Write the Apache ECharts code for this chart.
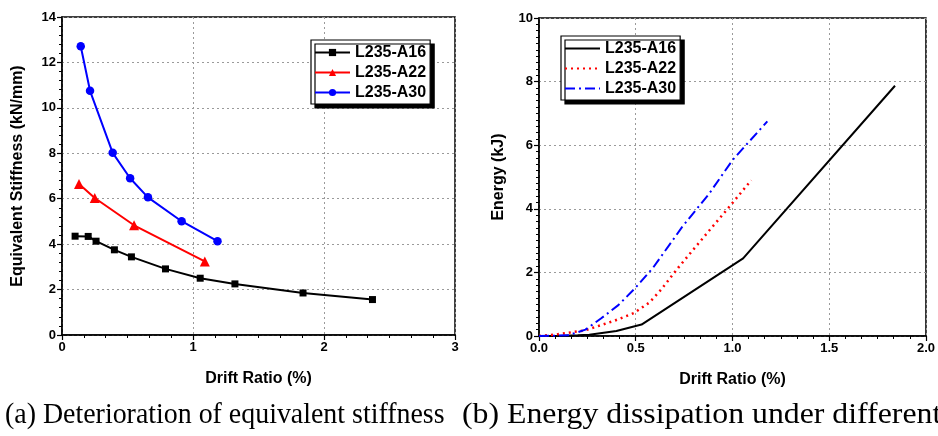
<!DOCTYPE html>
<html>
<head>
<meta charset="utf-8">
<script src="https://cdn.jsdelivr.net/npm/echarts@6/dist/echarts.min.js"></script>
<style>html,body{margin:0;padding:0;background:#fff}#c{width:938px;height:436px}</style>
</head>
<body>
<div id="c"></div>
<script>
// ---- Data: (a) equivalent stiffness ----
const seriesNames = ['L235-A16', 'L235-A22', 'L235-A30'];
const stiffA16 = [[0.10,4.35],[0.20,4.34],[0.26,4.13],[0.40,3.75],[0.53,3.44],[0.79,2.91],[1.055,2.50],[1.32,2.25],[1.84,1.85],[2.37,1.56]];
const stiffA22 = [[0.13,6.65],[0.25,6.03],[0.55,4.83],[1.09,3.24]];
const stiffA30 = [[0.143,12.71],[0.214,10.75],[0.387,8.02],[0.52,6.90],[0.656,6.06],[0.913,5.01],[1.187,4.13]];
// ---- Data: (b) energy dissipation ----
const energyA16 = [[0,0],[0.10,0.0],[0.20,0.02],[0.26,0.04],[0.40,0.16],[0.53,0.36],[1.055,2.44],[1.84,7.87]];
const energyA22 = [[0,0],[0.08,0.04],[0.24,0.18],[0.39,0.48],[0.49,0.72],[0.57,1.05],[0.63,1.45],[0.72,2.15],[0.85,3.10],[0.975,4.00],[1.097,4.90]];
const energyA30 = [[0,0],[0.15,0.02],[0.24,0.20],[0.32,0.55],[0.41,0.97],[0.49,1.46],[0.59,2.15],[0.74,3.43],[0.88,4.48],[1.00,5.53],[1.18,6.75]];
// ---- Texts ----
const xAxisTitle = 'Drift Ratio (%)';
const yTitleA = 'Equivalent Stiffness (kN/mm)';
const yTitleB = 'Energy (kJ)';
const captionA = '(a) Deterioration of equivalent stiffness';
const captionB = '(b) Energy dissipation under different';

const FONT = 'Liberation Sans, Arial, sans-serif';
function axisCommon(min, max, interval, split, fmt) {
  return {
    type: 'value', min: min, max: max, interval: interval,
    axisLine: { show: true, onZero: false, lineStyle: { color: '#000', width: 1.5 } },
    axisTick: { show: true, inside: false, length: 5, lineStyle: { color: '#000', width: 1.2 } },
    minorTick: { show: true, splitNumber: split, length: 3, lineStyle: { color: '#000', width: 1 } },
    axisLabel: { color: '#000', fontFamily: FONT, fontWeight: 'bold', fontSize: 13, margin: 6, formatter: fmt },
    splitLine: { show: true, lineStyle: { color: '#9a9a9a', type: [2, 3], width: 1 } },
    nameTextStyle: { color: '#000', fontFamily: FONT, fontWeight: 'bold', fontSize: 16 },
    nameLocation: 'middle'
  };
}

const chart = echarts.init(document.getElementById('c'), null, { renderer: 'canvas' });
const legendCommon = {
  orient: 'vertical', backgroundColor: '#fff', borderColor: '#000', borderWidth: 1.2,
  shadowColor: '#000', shadowBlur: 0, shadowOffsetX: 4, shadowOffsetY: 4,
  padding: [4, 4, 3, 3], itemGap: 3, itemWidth: 35, itemHeight: 9,
  textStyle: { color: '#000', fontFamily: FONT, fontWeight: 'bold', fontSize: 16, lineHeight: 17 },
  selectedMode: false
};

const option = {
  animation: false,
  backgroundColor: '#fff',
  grid: [
    { left: 62, top: 17, width: 393, height: 318, show: true, borderColor: '#000', borderWidth: 1.5, backgroundColor: 'transparent' },
    { left: 539, top: 18, width: 391, height: 318, show: true, borderColor: '#000', borderWidth: 1.5, backgroundColor: 'transparent' }
  ],
  xAxis: [
    Object.assign(axisCommon(0, 3, 1, 6, v => String(v)), { gridIndex: 0, name: xAxisTitle, nameGap: 36 }),
    Object.assign(axisCommon(0, 2, 0.5, 6, v => v.toFixed(1)), { gridIndex: 1, name: xAxisTitle, nameGap: 36 })
  ],
  yAxis: [
    Object.assign(axisCommon(0, 14, 2, 5, v => String(v)), { gridIndex: 0, name: yTitleA, nameGap: 36 }),
    Object.assign(axisCommon(0, 10, 2, 10, v => String(v)), { gridIndex: 1, name: yTitleB, nameGap: 32 })
  ],
  legend: [
    Object.assign({}, legendCommon, { left: 311, top: 40,
      data: seriesNames.map(n => 'a:' + n), formatter: n => n.slice(2) }),
    Object.assign({}, legendCommon, { left: 561, top: 36,
      itemStyle: { color: 'rgba(0,0,0,0)', borderColor: 'rgba(0,0,0,0)', borderWidth: 0, opacity: 0 },
      data: seriesNames.map(n => 'b:' + n), formatter: n => n.slice(2) })
  ],
  series: [
    { name: 'a:' + seriesNames[0], type: 'line', xAxisIndex: 0, yAxisIndex: 0, data: stiffA16, symbol: 'rect', symbolSize: 7,
      itemStyle: { color: '#000' }, lineStyle: { color: '#000', width: 2 } },
    { name: 'a:' + seriesNames[1], type: 'line', xAxisIndex: 0, yAxisIndex: 0, data: stiffA22, symbol: 'triangle', symbolSize: 10,
      itemStyle: { color: '#ff0000' }, lineStyle: { color: '#ff0000', width: 2 } },
    { name: 'a:' + seriesNames[2], type: 'line', xAxisIndex: 0, yAxisIndex: 0, data: stiffA30, symbol: 'circle', symbolSize: 8.5,
      itemStyle: { color: '#0000ff' }, lineStyle: { color: '#0000ff', width: 2 } },
    { name: 'b:' + seriesNames[0], type: 'line', xAxisIndex: 1, yAxisIndex: 1, data: energyA16, showSymbol: false, symbol: 'none',
      itemStyle: { color: '#000' }, lineStyle: { color: '#000', width: 2 } },
    { name: 'b:' + seriesNames[1], type: 'line', xAxisIndex: 1, yAxisIndex: 1, data: energyA22, showSymbol: false, symbol: 'none',
      itemStyle: { color: '#ff0000' }, lineStyle: { color: '#ff0000', width: 2.5, type: [2, 4] } },
    { name: 'b:' + seriesNames[2], type: 'line', xAxisIndex: 1, yAxisIndex: 1, data: energyA30, showSymbol: false, symbol: 'none',
      itemStyle: { color: '#0000ff' }, lineStyle: { color: '#0000ff', width: 2, type: [10, 4, 2, 4] } }
  ],
  graphic: [
    { type: 'text', x: 5, y: 400, scaleX: 0.93, style: { text: captionA, fill: '#000', font: '30px "Liberation Serif", "Times New Roman", serif' } },
    { type: 'text', x: 462, y: 400, scaleX: 1.06, style: { text: captionB, fill: '#000', font: '30px "Liberation Serif", "Times New Roman", serif' } }
  ]
};
chart.setOption(option);
</script>
</body>
</html>
